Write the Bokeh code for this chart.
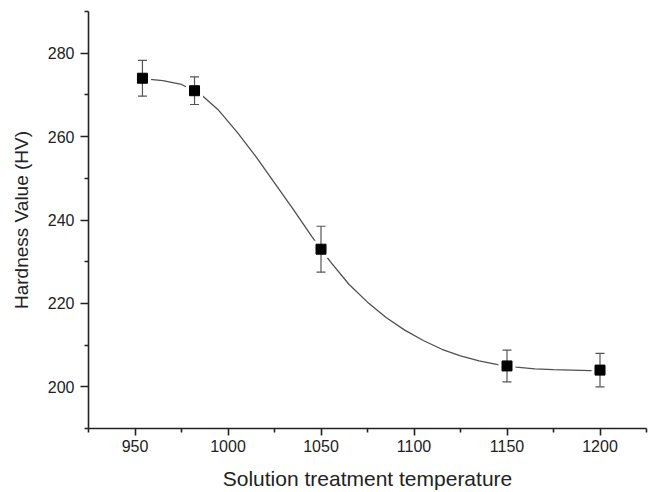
from bokeh.plotting import figure
from bokeh.models import FixedTicker, Range1d, ColumnDataSource
from bokeh.embed import file_html
from bokeh.resources import INLINE

# Measured points
temps = [954, 982, 1050, 1150, 1200]
hardness = [274.0, 271.0, 233.0, 205.0, 204.0]
err = [4.3, 3.3, 5.5, 3.8, 4.0]

# Fitted curve
curve_x = [954, 965, 975, 985, 995, 1005, 1015, 1025, 1035, 1045, 1055, 1065,
           1075, 1085, 1095, 1105, 1115, 1125, 1135, 1145, 1155, 1165, 1175,
           1185, 1195, 1200]
curve_y = [273.9, 273.4, 272.5, 270.3, 266.3, 261.0, 255.2, 248.9, 242.6, 236.1,
           230.0, 224.6, 220.3, 216.6, 213.6, 211.1, 209.0, 207.4, 206.2, 205.3,
           204.7, 204.3, 204.1, 204.0, 203.9, 203.9]

x_major = [950, 1000, 1050, 1100, 1150, 1200]
x_minor = [925, 975, 1025, 1075, 1125, 1175, 1225]
y_major = [200, 220, 240, 260, 280]
y_minor = [190, 210, 230, 250, 270, 290]

x_title = "Solution treatment temperature"
y_title = "Hardness Value (HV)"

lower = [h - e for h, e in zip(hardness, err)]
upper = [h + e for h, e in zip(hardness, err)]
src = ColumnDataSource(dict(x=temps, y=hardness, lo=lower, hi=upper))

W, H = 649, 492
p = figure(width=W, height=H, output_backend="svg", toolbar_location=None,
           x_range=Range1d(925, 1225), y_range=Range1d(190, 290),
           min_border_left=88, min_border_right=3, min_border_top=11,
           min_border_bottom=61)
p.outline_line_color = None
p.xgrid.visible = False
p.ygrid.visible = False
p.background_fill_color = "white"
p.border_fill_color = "white"

p.line(curve_x, curve_y, line_color="#505050", line_width=1.3)
p.scatter("x", "y", source=src, marker="square", size=16,
          fill_color="white", line_color="white")
p.segment(x0="x", y0="lo", x1="x", y1="hi", source=src,
          line_color="#555555", line_width=1.2)
p.scatter("x", "lo", source=src, marker="dash", size=9,
          line_color="#555555", line_width=1.2)
p.scatter("x", "hi", source=src, marker="dash", size=9,
          line_color="#555555", line_width=1.2)
p.scatter("x", "y", source=src, marker="square", size=10,
          fill_color="black", line_color="black")

font = "Liberation Sans"
for ax in (p.xaxis[0], p.yaxis[0]):
    ax.axis_line_color = "#222222"
    ax.axis_line_width = 1.6
    ax.major_tick_line_color = "#222222"
    ax.major_tick_line_width = 1.6
    ax.minor_tick_line_color = "#222222"
    ax.minor_tick_line_width = 1.6
    ax.major_tick_in = 0
    ax.minor_tick_in = 0
    ax.minor_tick_out = 4
    ax.major_label_text_font = font
    ax.major_label_text_font_size = "16px"
    ax.major_label_text_color = "#222222"
    ax.axis_label_text_font = font
    ax.axis_label_text_font_style = "normal"
    ax.axis_label_text_color = "#222222"

p.xaxis[0].axis_label_text_font_size = "21px"
p.yaxis[0].axis_label_text_font_size = "19px"
p.xaxis[0].ticker = FixedTicker(ticks=x_major, minor_ticks=x_minor)
p.yaxis[0].ticker = FixedTicker(ticks=y_major, minor_ticks=y_minor)
p.xaxis[0].major_tick_out = 7
p.yaxis[0].major_tick_out = 8
p.xaxis[0].major_label_standoff = 4
p.yaxis[0].major_label_standoff = 6
p.xaxis[0].axis_label = x_title
p.yaxis[0].axis_label = y_title
p.xaxis[0].axis_label_standoff = 12
p.yaxis[0].axis_label_standoff = 13

open("out.html", "w").write(file_html(p, INLINE))
